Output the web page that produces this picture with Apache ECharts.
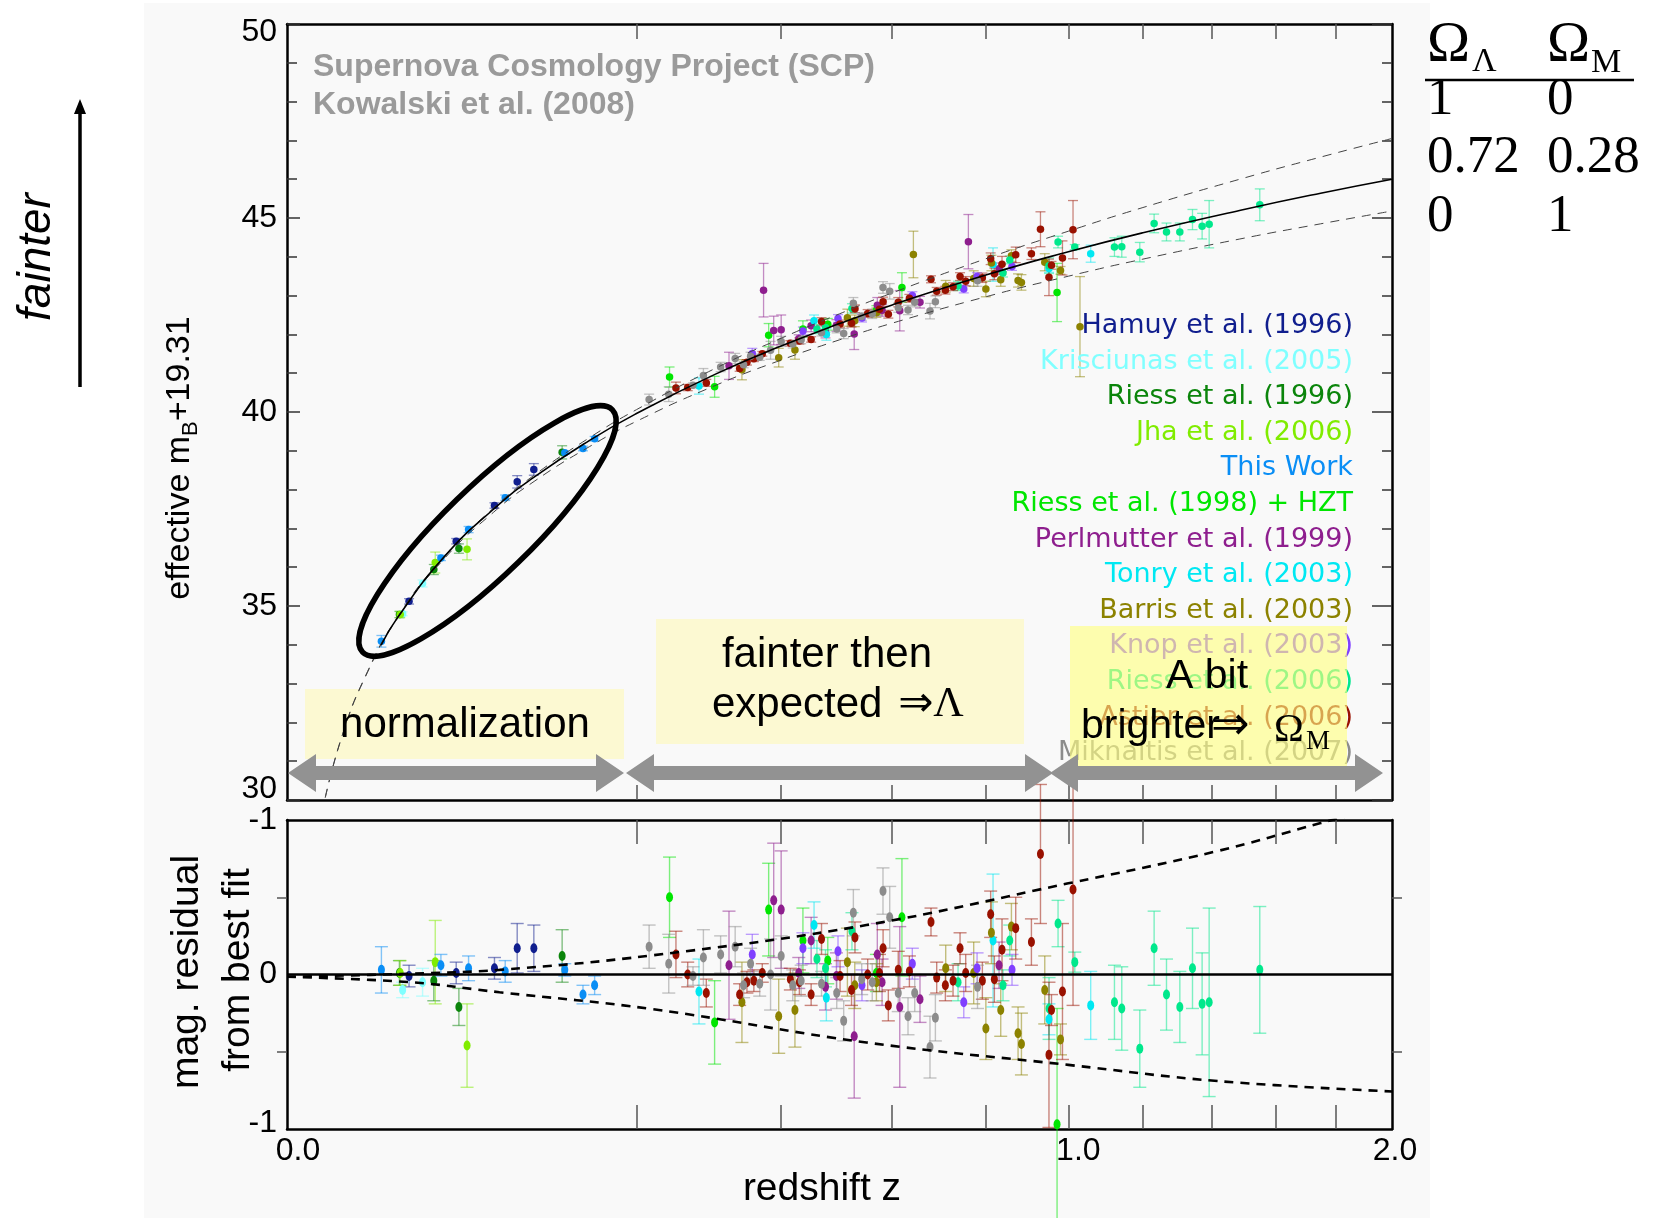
<!DOCTYPE html>
<html>
<head>
<meta charset="utf-8">
<title>Hubble diagram - SCP (Kowalski et al. 2008)</title>
<script src="https://cdn.jsdelivr.net/npm/echarts@6/dist/echarts.min.js"></script>
<style>
  html, body { margin: 0; padding: 0; background: #fff; }
  #chart { width: 1658px; height: 1218px; }
</style>
</head>
<body>
<div id="chart"></div>
<script>
// ---- supernova samples: redshift, effective mB+19.31, residual from best fit, 1-sigma error ----
// Hamuy et al. (1996)
const hamuyZ   = [0.0244, 0.0469, 0.0705, 0.0868, 0.0998];
const hamuyMag = [35.12, 36.67, 37.59, 38.20, 38.52];
const hamuyRes = [-0.01, 0.01, 0.04, 0.17, 0.17];
const hamuyErr = [0.07, 0.07, 0.07, 0.16, 0.15];
// Krisciunas et al. (2005)
const krisZ   = [0.0219, 0.0301];
const krisMag = [34.80, 35.58];
const krisRes = [-0.10, -0.05];
const krisErr = [0.05, 0.09];
// Riess et al. (1996)
const riess96Z   = [0.0207, 0.0353, 0.0484, 0.1240];
const riess96Mag = [34.78, 35.94, 36.48, 38.96];
const riess96Res = [0.01, -0.04, -0.21, 0.12];
const riess96Err = [0.08, 0.13, 0.12, 0.17];
// Jha et al. (2006)
const jhaZ   = [0.0210, 0.0360, 0.0531];
const jhaMag = [34.78, 36.12, 36.46];
const jhaRes = [0.01, 0.08, -0.46];
const jhaErr = [0.08, 0.27, 0.27];
// This Work
const thisZ   = [0.0146, 0.0388, 0.0540, 0.0780, 0.1264, 0.1435, 0.1550];
const thisMag = [34.09, 36.24, 36.97, 37.79, 38.95, 39.06, 39.31];
const thisRes = [0.03, 0.06, 0.04, 0.02, 0.03, -0.13, -0.07];
const thisErr = [0.15, 0.07, 0.08, 0.07, 0.04, 0.06, 0.06];
// Riess et al. (1998) + HZT
const r98Z   = [0.2397, 0.2995, 0.380, 0.436, 0.479, 0.569, 0.6194, 0.9713];
const r98Mag = [40.90, 40.65, 41.98, 42.14, 42.26, 42.62, 43.21, 43.08];
const r98Res = [0.50, -0.31, 0.42, 0.22, 0.09, 0.01, 0.37, -0.97];
const r98Err = [0.26, 0.27, 0.30, 0.21, 0.15, 0.12, 0.38, 0.75];
// Perlmutter et al. (1999)  (null residual = off the lower panel)
const p99Z   = [0.320, 0.372, 0.388, 0.400, 0.429, 0.450, 0.475, 0.4945, 0.527, 0.5708, 0.580, 0.615, 0.6563, 0.7605, 0.8305];
const p99Mag = [41.19, 43.14, 42.10, 42.12, 41.89, 42.22, 42.06, 42.23, 42.01, 42.75, 42.62, 42.61, 42.83, 44.39, 43.69];
const p99Res = [0.06, null, 0.48, 0.42, 0.01, 0.22, -0.08, -0.01, -0.40, 0.13, -0.05, -0.21, -0.16, null, 0.06];
const p99Err = [0.35, 0.69, 0.37, 0.38, 0.10, 0.15, 0.15, 0.15, 0.40, 0.20, 0.15, 0.52, 0.15, 0.70, 0.15];
// Tonry et al. (2003)
const tonryZ   = [0.278, 0.455, 0.4765, 0.8165, 0.951, 1.058];
const tonryMag = [40.67, 42.35, 42.00, 43.80, 43.70, 44.08];
const tonryRes = [-0.11, 0.32, -0.15, 0.22, -0.29, -0.20];
const tonryErr = [0.21, 0.15, 0.15, 0.43, 0.10, 0.22];
// Barris et al. (2003)
const barrisZ   = [0.339, 0.396, 0.4226, 0.5144, 0.528, 0.569, 0.6427, 0.7107, 0.7724, 0.800, 0.8128, 0.8344, 0.8596, 0.8754, 0.8835, 0.9405, 0.980, 1.030];
const barrisMag = [41.09, 41.40, 41.60, 42.43, 42.35, 42.56, 44.06, 43.24, 43.44, 43.17, 43.84, 43.41, 44.03, 43.39, 43.34, 43.86, 43.65, 42.20];
const barrisRes = [-0.18, -0.27, -0.23, 0.08, -0.07, -0.05, null, 0.04, 0.01, -0.35, 0.27, -0.23, 0.31, -0.38, -0.45, -0.10, -0.42, null];
const barrisErr = [0.26, 0.24, 0.24, 0.22, 0.15, 0.12, 0.60, 0.15, 0.20, 0.20, 0.20, 0.17, 0.15, 0.17, 0.20, 0.22, 0.10, 1.29];
// Knop et al. (2003)
const knopZ   = [0.3546, 0.436, 0.4973, 0.5415, 0.6405, 0.7502, 0.780, 0.861];
const knopMag = [41.51, 42.09, 42.41, 42.42, 43.00, 43.17, 43.49, 43.75];
const knopRes = [0.13, 0.17, 0.15, -0.07, 0.07, -0.18, 0.04, 0.03];
const knopErr = [0.13, 0.10, 0.10, 0.10, 0.10, 0.10, 0.10, 0.10];
// Riess et al. (2006)
const r06Z   = [0.460, 0.475, 0.5228, 0.7376, 0.8397, 0.8556, 0.9512, 0.9738, 1.0165, 1.1215, 1.1414, 1.1912, 1.2316, 1.267, 1.3057, 1.343, 1.3717, 1.3929, 1.55];
const r06Mag = [42.14, 42.18, 42.67, 43.25, 43.58, 43.92, 43.77, 44.38, 44.25, 44.25, 44.26, 44.12, 44.86, 44.64, 44.64, 44.96, 44.79, 44.84, 45.34];
const r06Res = [0.10, 0.04, 0.28, -0.05, -0.07, 0.22, -0.22, 0.33, 0.08, -0.18, -0.22, -0.48, 0.17, -0.13, -0.21, 0.04, -0.19, -0.18, 0.03];
const r06Err = [0.12, 0.12, 0.12, 0.12, 0.10, 0.10, 0.20, 0.15, 0.065, 0.24, 0.27, 0.25, 0.24, 0.23, 0.23, 0.26, 0.33, 0.61, 0.41];
// Astier et al. (2006)
const astierZ   = [0.2478, 0.263, 0.288, 0.3356, 0.3465, 0.357, 0.370, 0.415, 0.430, 0.450, 0.468, 0.501, 0.522, 0.5284, 0.5523, 0.575, 0.582, 0.5923, 0.612, 0.6345, 0.6793, 0.6914, 0.710, 0.7266, 0.742, 0.7545, 0.792, 0.811, 0.8196, 0.8374, 0.8698, 0.9077, 0.9299, 0.951, 0.9573, 0.985, 1.012];
const astierMag = [40.62, 40.63, 40.75, 41.12, 41.28, 41.37, 41.50, 41.77, 41.83, 41.87, 42.33, 42.27, 42.29, 42.66, 42.54, 42.65, 42.84, 42.52, 42.83, 42.93, 43.42, 43.11, 43.14, 43.23, 43.49, 43.37, 43.46, 43.95, 43.56, 43.81, 44.05, 44.08, 44.71, 43.47, 43.78, 43.97, 44.70];
const astierRes = [0.13, 0.00, -0.12, -0.13, -0.05, -0.04, 0.01, -0.03, -0.05, -0.13, 0.23, -0.01, -0.10, 0.24, 0.00, 0.01, 0.17, -0.20, 0.03, 0.02, 0.34, -0.02, -0.07, -0.04, 0.17, 0.01, -0.04, 0.39, -0.03, 0.16, 0.30, 0.21, 0.78, -0.52, -0.23, -0.11, 0.55];
const astierErr = [0.15, 0.08, 0.09, 0.07, 0.07, 0.07, 0.06, 0.07, 0.08, 0.07, 0.10, 0.10, 0.10, 0.10, 0.10, 0.12, 0.12, 0.10, 0.12, 0.10, 0.09, 0.10, 0.10, 0.10, 0.10, 0.12, 0.12, 0.15, 0.15, 0.20, 0.20, 0.15, 0.45, 0.47, 0.10, 0.44, 0.75];
// Miknaitis et al. (2007)
const mikZ   = [0.2148, 0.2387, 0.270, 0.284, 0.308, 0.329, 0.3415, 0.352, 0.366, 0.383, 0.400, 0.419, 0.433, 0.468, 0.495, 0.5076, 0.5254, 0.541, 0.561, 0.5818, 0.595, 0.612, 0.6317, 0.6454, 0.6772, 0.6886, 0.781];
const mikMag = [40.32, 40.46, 40.69, 40.94, 41.16, 41.38, 41.22, 41.44, 41.41, 41.59, 41.82, 41.75, 41.86, 42.04, 42.14, 42.02, 42.80, 42.46, 42.53, 43.21, 43.11, 42.69, 42.63, 42.83, 42.60, 42.84, 43.38];
const mikRes = [0.18, 0.07, -0.01, 0.11, 0.13, 0.18, -0.07, 0.07, -0.06, 0.00, 0.12, -0.07, -0.04, -0.06, -0.12, -0.30, 0.40, -0.03, -0.05, 0.54, 0.37, -0.12, -0.27, -0.12, -0.47, -0.28, -0.08];
const mikErr = [0.14, 0.19, 0.06, 0.18, 0.12, 0.13, 0.08, 0.10, 0.08, 0.23, 0.13, 0.10, 0.10, 0.08, 0.10, 0.13, 0.15, 0.10, 0.12, 0.15, 0.20, 0.12, 0.12, 0.12, 0.20, 0.15, 0.14];

// ---- model curves ----
const curveZ        = [0.0024, 0.005, 0.01, 0.02, 0.04, 0.07, 0.1, 0.15, 0.2, 0.3, 0.4, 0.5, 0.6, 0.8, 1.0, 1.2, 1.5, 1.75, 2.0];
const lambdaOnlyMag = [30.07, 31.67, 33.18, 34.71, 36.25, 37.53, 38.37, 39.34, 40.06, 41.12, 41.90, 42.53, 43.07, 43.95, 44.66, 45.27, 46.03, 46.57, 47.05]; // OmegaL=1, OmegaM=0
const matterOnlyMag = [30.06, 31.66, 33.16, 34.68, 36.19, 37.42, 38.21, 39.11, 39.76, 40.68, 41.34, 41.86, 42.29, 42.97, 43.50, 43.94, 44.48, 44.85, 45.18]; // OmegaL=0, OmegaM=1
const fitZ          = [0.0145, 0.02, 0.04, 0.07, 0.1, 0.15, 0.2, 0.3, 0.4, 0.5, 0.6, 0.8, 1.0, 1.2, 1.5, 1.75, 2.0];
const fitMag        = [33.99, 34.70, 36.24, 37.50, 38.32, 39.27, 39.96, 40.97, 41.70, 42.28, 42.76, 43.53, 44.13, 44.62, 45.22, 45.64, 46.00]; // 0.72 / 0.28
// residual panel: the two alternative cosmologies relative to the fit
const resUpZ  = [0, 0.025, 0.074, 0.22, 0.55, 1.0, 1.42, 1.75, 2.0];
const resUp   = [-0.015, 0.005, 0.03, 0.125, 0.32, 0.59, 0.80, 0.98, 1.10];
const resLowZ = [0, 0.025, 0.074, 0.22, 0.55, 1.0, 1.42, 2.0];
const resLow  = [-0.015, -0.05, -0.115, -0.225, -0.44, -0.585, -0.69, -0.757];

// ---- axis ticks / labels ----
const tickZ  = [0.2, 0.4, 0.6, 0.8, 1.0, 1.2, 1.4, 1.6, 1.8];
const labelZ = [0, 1, 2];
const omegaLambda = ['1', '0.72', '0'];
const omegaMatter = ['0', '0.28', '1'];

const surveys = [
  { label: 'Hamuy et al. (1996)',       color: '#101e8e', z: hamuyZ,   mag: hamuyMag,   res: hamuyRes,   err: hamuyErr },
  { label: 'Krisciunas et al. (2005)',  color: '#80ffff', z: krisZ,    mag: krisMag,    res: krisRes,    err: krisErr },
  { label: 'Riess et al. (1996)',       color: '#0b850b', z: riess96Z, mag: riess96Mag, res: riess96Res, err: riess96Err },
  { label: 'Jha et al. (2006)',         color: '#80ec00', z: jhaZ,     mag: jhaMag,     res: jhaRes,     err: jhaErr },
  { label: 'This Work',                 color: '#0a8ef5', z: thisZ,    mag: thisMag,    res: thisRes,    err: thisErr },
  { label: 'Riess et al. (1998) + HZT', color: '#00e600', z: r98Z,     mag: r98Mag,     res: r98Res,     err: r98Err },
  { label: 'Perlmutter et al. (1999)',  color: '#8e1e8e', z: p99Z,     mag: p99Mag,     res: p99Res,     err: p99Err },
  { label: 'Tonry et al. (2003)',       color: '#00e8f2', z: tonryZ,   mag: tonryMag,   res: tonryRes,   err: tonryErr },
  { label: 'Barris et al. (2003)',      color: '#8c8200', z: barrisZ,  mag: barrisMag,  res: barrisRes,  err: barrisErr },
  { label: 'Knop et al. (2003)',        color: '#8040ff', z: knopZ,    mag: knopMag,    res: knopRes,    err: knopErr },
  { label: 'Riess et al. (2006)',       color: '#00e88c', z: r06Z,     mag: r06Mag,     res: r06Res,     err: r06Err },
  { label: 'Astier et al. (2006)',      color: '#991100', z: astierZ,  mag: astierMag,  res: astierRes,  err: astierErr },
  { label: 'Miknaitis et al. (2007)',   color: '#8c8c8c', z: mikZ,     mag: mikMag,     res: mikRes,     err: mikErr }
];

const SANS = '"Liberation Sans", Arial, Helvetica, sans-serif';
const WIDE = '"DejaVu Sans", Verdana, sans-serif';
const SERIF = '"Liberation Serif", "Times New Roman", serif';
const W = 1658, H = 1218;

// x axis is drawn in sqrt(z), like the original plot
const su = z => Math.sqrt(z);

function errorBars(cap, width, alpha) {
  return function (params, api) {
    const u = api.value(0), v = api.value(1), e = api.value(2);
    const hi = api.coord([u, v + e]);
    const lo = api.coord([u, v - e]);
    const c = api.visual('color');
    const st = () => ({ stroke: c, lineWidth: width, opacity: alpha });
    return {
      type: 'group',
      children: [
        { type: 'line', shape: { x1: hi[0], y1: hi[1], x2: lo[0], y2: lo[1] }, style: st() },
        { type: 'line', shape: { x1: hi[0] - cap, y1: hi[1], x2: hi[0] + cap, y2: hi[1] }, style: st() },
        { type: 'line', shape: { x1: lo[0] - cap, y1: lo[1], x2: lo[0] + cap, y2: lo[1] }, style: st() }
      ]
    };
  };
}

const series = [];
surveys.forEach(s => {
  const top = s.z.map((z, i) => [su(z), s.mag[i], s.err[i]]);
  const low = s.z.map((z, i) => [su(z), s.res[i], s.err[i]]).filter(d => d[1] !== null);
  series.push({ type: 'custom', xAxisIndex: 0, yAxisIndex: 0, z: 2, silent: true, clip: false,
    itemStyle: { color: s.color }, encode: { x: 0, y: 1 }, renderItem: errorBars(5, 1.3, 0.5), data: top });
  series.push({ type: 'scatter', xAxisIndex: 0, yAxisIndex: 0, z: 3, silent: true, symbolSize: 7.5,
    itemStyle: { color: s.color, opacity: 1 }, encode: { x: 0, y: 1 }, data: top });
  series.push({ type: 'custom', xAxisIndex: 2, yAxisIndex: 2, z: 2, silent: true, clip: false,
    itemStyle: { color: s.color }, encode: { x: 0, y: 1 }, renderItem: errorBars(6.5, 1.4, 0.5), data: low });
  series.push({ type: 'scatter', xAxisIndex: 2, yAxisIndex: 2, z: 3, silent: true, symbolSize: [7, 10],
    itemStyle: { color: s.color, opacity: 1 }, encode: { x: 0, y: 1 }, data: low });
});

// model curves, upper panel
const curveLine = (data, style) => ({ type: 'line', xAxisIndex: 0, yAxisIndex: 0, z: 4, silent: true,
  symbol: 'none', smooth: 0.5, lineStyle: style, data: data });
series.push(curveLine(curveZ.map((z, i) => [su(z), lambdaOnlyMag[i]]), { color: '#444', width: 1, type: [9, 7] }));
series.push(curveLine(curveZ.map((z, i) => [su(z), matterOnlyMag[i]]), { color: '#444', width: 1, type: [9, 7] }));
series.push(curveLine(fitZ.map((z, i) => [su(z), fitMag[i]]), { color: '#000', width: 1.6 }));
// residual panel
series.push({ type: 'line', xAxisIndex: 2, yAxisIndex: 2, z: 4, silent: true, symbol: 'none', smooth: 0.4, clip: true,
  lineStyle: { color: '#000', width: 2.6, type: [9, 7] }, data: resUpZ.map((z, i) => [su(z), resUp[i]]),
  markLine: { silent: true, symbol: 'none', label: { show: false }, lineStyle: { color: '#000', width: 2.5, type: 'solid' }, data: [{ yAxis: 0 }] } });
series.push({ type: 'line', xAxisIndex: 2, yAxisIndex: 2, z: 4, silent: true, symbol: 'none', smooth: 0.4, clip: true,
  lineStyle: { color: '#000', width: 2.6, type: [9, 7] }, data: resLowZ.map((z, i) => [su(z), resLow[i]]) });

// ---- axes ----
const frame = { show: true, onZero: false, lineStyle: { color: '#000', width: 2.5 } };
function xAxis(grid, position, tickLen, labels) {
  return {
    type: 'value', gridIndex: grid, position: position, min: 0, max: Math.SQRT2,
    axisLine: frame,
    axisTick: { show: true, inside: true, length: tickLen, customValues: tickZ.map(su), lineStyle: { color: '#555', width: 1.5 } },
    axisLabel: labels ? {
      show: true, margin: 6, customValues: labelZ.map(su),
      formatter: v => { const z = v * v; const k = z < 0.5 ? 'a' : (z < 1.5 ? 'b' : 'c'); return '{' + k + '|' + z.toFixed(1) + '}'; },
      rich: {
        a: { fontSize: 32, fontFamily: SANS, color: '#000', padding: [0, 0, 0, 22] },
        b: { fontSize: 32, fontFamily: SANS, color: '#000', padding: [0, 0, 0, 20] },
        c: { fontSize: 32, fontFamily: SANS, color: '#000', padding: [0, 0, 0, 6] }
      }
    } : { show: false },
    splitLine: { show: false }
  };
}
const yRich = (size) => ({
  n:  { fontSize: size, fontFamily: SANS, color: '#000' },
  lo: { fontSize: size, fontFamily: SANS, color: '#000', padding: [0, 0, 22, 0] },
  hi: { fontSize: size, fontFamily: SANS, color: '#000', padding: [16, 0, 0, 0] },
  lo2: { fontSize: size, fontFamily: SANS, color: '#000', padding: [0, 0, 12, 0] }
});

const option = {
  backgroundColor: '#f9f9f9',
  animation: false,
  grid: [
    { left: 287, top: 24, width: 1105, height: 776, containLabel: false, outerBoundsMode: 'none' },
    { left: 287, top: 820, width: 1105, height: 309, containLabel: false, outerBoundsMode: 'none' }
  ],
  xAxis: [
    xAxis(0, 'bottom', 15, false),
    xAxis(0, 'top', 15, false),
    xAxis(1, 'bottom', 24, true),
    xAxis(1, 'top', 24, false)
  ],
  yAxis: [
    { type: 'value', gridIndex: 0, position: 'left', min: 30, max: 50, interval: 5,
      axisLine: frame,
      axisTick: { show: true, inside: true, length: 13, lineStyle: { color: '#333', width: 1.5 } },
      minorTick: { show: true, splitNumber: 5, length: 10, lineStyle: { color: '#333', width: 1.5 } },
      axisLabel: { margin: 10, formatter: v => v === 30 ? '{lo|30}' : (v === 50 ? '{hi|50}' : '{n|' + v + '}'), rich: yRich(32) },
      splitLine: { show: false } },
    { type: 'value', gridIndex: 0, position: 'right', min: 30, max: 50, interval: 5,
      axisLine: frame,
      axisTick: { show: true, inside: true, length: 20, lineStyle: { color: '#333', width: 1.5 } },
      minorTick: { show: true, splitNumber: 5, length: 10, lineStyle: { color: '#333', width: 1.5 } },
      axisLabel: { show: false }, splitLine: { show: false } },
    { type: 'value', gridIndex: 1, position: 'left', min: -1, max: 1, interval: 1,
      axisLine: frame,
      axisTick: { show: false },
      minorTick: { show: true, splitNumber: 2, length: 10, lineStyle: { color: '#555', width: 1.5 } },
      axisLabel: { margin: 10, formatter: v => v === 0 ? '{n|0}' : (v < 0 ? '{lo2|-1}' : '{n|-1}'), rich: yRich(32) },
      splitLine: { show: false } },
    { type: 'value', gridIndex: 1, position: 'right', min: -1, max: 1, interval: 1,
      axisLine: frame,
      axisTick: { show: false },
      minorTick: { show: true, splitNumber: 2, length: 10, lineStyle: { color: '#555', width: 1.5 } },
      axisLabel: { show: false }, splitLine: { show: false } }
  ],
  series: series
};

// ---- annotations ----
function text(x, y, str, size, family, color, align, extra) {
  return Object.assign({
    type: 'text', x: x, y: y, z: 7, silent: true,
    style: { text: str, fontSize: size, fontFamily: family, fill: color, align: align || 'left', verticalAlign: 'middle' }
  }, extra || {});
}
function doubleArrow(x1, x2, yc) {
  const L = 28, A = 19, T = 7;
  return { type: 'polygon', z: 6, silent: true, style: { fill: '#929292' },
    shape: { points: [[x1, yc], [x1 + L, yc - A], [x1 + L, yc - T], [x2 - L, yc - T], [x2 - L, yc - A], [x2, yc],
                      [x2 - L, yc + A], [x2 - L, yc + T], [x1 + L, yc + T], [x1 + L, yc + A]] } };
}

const titleStyle = { fontWeight: 'bold' };
const gfx = [
  // white paper outside the grey sheet
  { type: 'rect', z: 1, silent: true, shape: { x: 0, y: 0, width: 144, height: H }, style: { fill: '#fff' } },
  { type: 'rect', z: 1, silent: true, shape: { x: 1430, y: 0, width: W - 1430, height: H }, style: { fill: '#fff' } },
  { type: 'rect', z: 1, silent: true, shape: { x: 0, y: 0, width: W, height: 3 }, style: { fill: '#fff' } },
  // highlight boxes
  { type: 'rect', z: 1, silent: true, shape: { x: 305, y: 689, width: 319, height: 70 }, style: { fill: '#fcf9d2' } },
  { type: 'rect', z: 1, silent: true, shape: { x: 656, y: 619, width: 368, height: 125 }, style: { fill: '#fcf9d2' } },
  { type: 'rect', z: 6, silent: true, shape: { x: 1070, y: 626, width: 277, height: 141 }, style: { fill: 'rgba(255,255,128,0.62)' } },
  doubleArrow(288, 624, 773),
  doubleArrow(626, 1053, 773),
  doubleArrow(1050, 1383, 773),
  { type: 'ellipse', z: 6, silent: true, x: 487.5, y: 531, rotation: 0.77,
    shape: { cx: 0, cy: 0, rx: 174, ry: 44 }, style: { fill: 'none', stroke: '#000', lineWidth: 5.5 } },
  // titles
  text(313, 67, 'Supernova Cosmology Project (SCP)', 32, SANS, '#9a9a9a', 'left'),
  text(313, 105, 'Kowalski et al. (2008)', 32, SANS, '#9a9a9a', 'left'),
  // box texts
  text(465, 725, 'normalization', 42, SANS, '#000', 'center'),
  text(827, 655, 'fainter then', 42, SANS, '#000', 'center'),
  { type: 'text', x: 712, y: 705, z: 7, silent: true, style: { text: '{a|expected }{b|⇒}{c|Λ}', align: 'left', verticalAlign: 'middle',
      rich: { a: { fontSize: 42, fontFamily: SANS, fill: '#000' },
              b: { fontSize: 42, fontFamily: WIDE, fill: '#000', padding: [0, 0, 0, 4] },
              c: { fontSize: 42, fontFamily: SERIF, fill: '#000' } } } },
  text(1207, 677, 'A bit', 41, SANS, '#000', 'center'),
  text(1081, 727, 'brighter', 41, SANS, '#000', 'left'),
  text(1211, 727, '⇒', 46, WIDE, '#000', 'left'),
  text(1274, 730, 'Ω', 40, SERIF, '#000', 'left'),
  text(1306, 742, 'M', 27, SERIF, '#000', 'left'),
  // axis titles
  text(822, 1189, 'redshift z', 39, SANS, '#000', 'center'),
  { type: 'text', x: 180, y: 458, rotation: Math.PI / 2, z: 7, silent: true,
    style: { text: '{a|effective m}{b|B}{a|+19.31}', align: 'center', verticalAlign: 'middle',
      rich: { a: { fontSize: 34, fontFamily: SANS, fill: '#000', lineHeight: 44 },
              b: { fontSize: 22, fontFamily: SANS, fill: '#000', lineHeight: 22, verticalAlign: 'bottom' } } } },
  text(187, 972, 'mag. residual', 39, SANS, '#000', 'center', { rotation: Math.PI / 2 }),
  text(238, 970, 'from best fit', 39, SANS, '#000', 'center', { rotation: Math.PI / 2 }),
  // "fainter" arrow
  text(37, 257, 'fainter', 46, SANS, '#000', 'center', { rotation: Math.PI / 2 }),
  { type: 'line', z: 7, silent: true, shape: { x1: 80, y1: 387, x2: 80, y2: 110 }, style: { stroke: '#000', lineWidth: 3.5 } },
  { type: 'polygon', z: 7, silent: true, shape: { points: [[80, 99], [74, 114], [86, 114]] }, style: { fill: '#000' } },
  // Omega table header
  text(1427, 46, 'Ω', 58, SERIF, '#000', 'left'),
  text(1472, 62, 'Λ', 34, SERIF, '#000', 'left'),
  text(1547, 46, 'Ω', 58, SERIF, '#000', 'left'),
  text(1591, 63, 'M', 34, SERIF, '#000', 'left'),
  { type: 'line', z: 7, silent: true, shape: { x1: 1425, y1: 80, x2: 1634, y2: 80 }, style: { stroke: '#000', lineWidth: 2.5 } }
];
gfx.forEach(g => {
  if (!g.style) return;
  if (g.style.text === 'fainter') g.style.fontStyle = 'italic';
  if (g.style.fill === '#9a9a9a') g.style.fontWeight = titleStyle.fontWeight;
});
omegaLambda.forEach((t, i) => gfx.push(text(1427, 100 + 58.4 * i, t, 53, SERIF, '#000', 'left')));
omegaMatter.forEach((t, i) => gfx.push(text(1547, 100 + 58.4 * i, t, 53, SERIF, '#000', 'left')));
// data-set legend, drawn under the yellow box
surveys.forEach((s, i) => {
  const g = text(1353, 326 + 35.6 * i, s.label, 27, WIDE, s.color, 'right');
  g.z = 5;
  gfx.push(g);
});
option.graphic = { elements: gfx };

const chart = echarts.init(document.getElementById('chart'));
chart.setOption(option);
window.addEventListener('resize', () => chart.resize());
</script>
</body>
</html>
